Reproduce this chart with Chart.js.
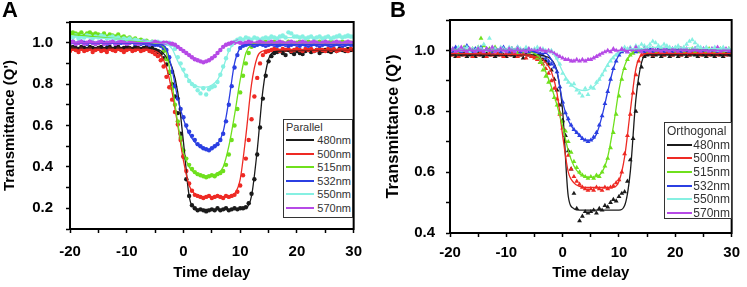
<!DOCTYPE html>
<html>
<head>
<meta charset="utf-8">
<script src="https://cdn.jsdelivr.net/npm/chart.js@4.4.1/dist/chart.umd.min.js"></script>
<style>
  html, body { margin: 0; padding: 0; background: #fff; }
  body { width: 747px; height: 287px; position: relative; overflow: hidden; font-family: "Liberation Sans", Arial, sans-serif; }
  canvas { position: absolute; top: 0; }
  #chartA { left: 0; }
  #chartB { left: 372px; }
  .tag { position: absolute; top: -1px; font: bold 22px "Liberation Sans", Arial, sans-serif; line-height: 22px; color: #000; }
  .legend { position: absolute; box-sizing: border-box; border: 1.5px solid #333; background: #fff; color: #333; }
  .legend .row { display: flex; align-items: center; white-space: nowrap; }
  .legend .swatch { display: block; height: 2px; flex: none; }
  .legend .lbl { flex: 1; text-align: right; }
</style>
</head>
<body>
<canvas id="chartA" width="372" height="287"></canvas>
<canvas id="chartB" width="375" height="287"></canvas>
<div class="tag" style="left:2px">A</div>
<div class="tag" style="left:390px">B</div>
<div class="legend" id="legendA" style="left:283px; top:119px; width:70px; height:99px; font-size:11px;"></div>
<div class="legend" id="legendB" style="left:664px; top:122px; width:68px; height:97px; font-size:12px; padding-top:1px;"></div>
<script>
// time delay grid of the measured points
const delay = [
  -20, -19.5, -19, -18.5, -18, -17.5, -17, -16.5, -16, -15.5,
  -15, -14.5, -14, -13.5, -13, -12.5, -12, -11.5, -11, -10.5,
  -10, -9.5, -9, -8.5, -8, -7.5, -7, -6.5, -6, -5.5,
  -5, -4.5, -4, -3.5, -3, -2.5, -2, -1.5, -1, -0.5,
  0, 0.5, 1, 1.5, 2, 2.5, 3, 3.5, 4, 4.5,
  5, 5.5, 6, 6.5, 7, 7.5, 8, 8.5, 9, 9.5,
  10, 10.5, 11, 11.5, 12, 12.5, 13, 13.5, 14, 14.5,
  15, 15.5, 16, 16.5, 17, 17.5, 18, 18.5, 19, 19.5,
  20, 20.5, 21, 21.5, 22, 22.5, 23, 23.5, 24, 24.5,
  25, 25.5, 26, 26.5, 27, 27.5, 28, 28.5, 29, 29.5,
  30
];
// delay grid of the fitted curves
const fitDelay = [-20, -6, -5, -4, -3, -2, -1, 0, 1, 2, 3, 4, 5, 6, 7, 8, 9, 10, 11, 12, 13, 14, 15, 16, 17, 30];

const wavelengths = ["480nm", "500nm", "515nm", "532nm", "550nm", "570nm"];
const lineColors = ["#1b1b1b", "#ee2a24", "#6fe01c", "#2b3fe2", "#86f0e2", "#b64ae6"];

// panel A (Parallel) measured points
const a480 = [
  0.97, 0.98, 0.975, 0.97, 0.98, 0.975, 0.97, 0.98, 0.975, 0.97,
  0.975, 0.98, 0.97, 0.975, 0.98, 0.97, 0.975, 0.98, 0.97, 0.975,
  0.98, 0.975, 0.97, 0.98, 0.975, 0.97, 0.975, 0.98, 0.97, 0.975,
  0.965, 0.955, 0.945, 0.925, 0.895, 0.855, 0.8, 0.74, 0.66, 0.56,
  0.45, 0.34, 0.26, 0.215, 0.2, 0.19, 0.195, 0.19, 0.185, 0.19,
  0.195, 0.19, 0.2, 0.19, 0.195, 0.2, 0.19, 0.195, 0.2, 0.195,
  0.2, 0.2, 0.205, 0.225, 0.27, 0.34, 0.46, 0.59, 0.73, 0.84,
  0.91, 0.935, 0.95, 0.955, 0.96, 0.95, 0.94, 0.965, 0.955, 0.945,
  0.96, 0.95, 0.945, 0.96, 0.965, 0.955, 0.96, 0.965, 0.95, 0.96,
  0.965, 0.96, 0.955, 0.965, 0.96, 0.97, 0.965, 0.96, 0.97, 0.965,
  0.965
];
const a500 = [
  0.96, 0.97, 0.965, 0.955, 0.97, 0.96, 0.965, 0.97, 0.955, 0.965,
  0.97, 0.96, 0.965, 0.955, 0.97, 0.965, 0.96, 0.97, 0.965, 0.955,
  0.965, 0.97, 0.96, 0.965, 0.97, 0.96, 0.965, 0.97, 0.96, 0.955,
  0.945, 0.935, 0.915, 0.885, 0.835, 0.785, 0.725, 0.665, 0.605, 0.53,
  0.45, 0.38, 0.32, 0.285, 0.265, 0.26, 0.255, 0.25, 0.255, 0.26,
  0.25, 0.255, 0.26, 0.255, 0.25, 0.26, 0.255, 0.26, 0.265, 0.28,
  0.31, 0.36, 0.44, 0.53, 0.63, 0.74, 0.83, 0.9, 0.94, 0.955,
  0.96, 0.965, 0.97, 0.965, 0.96, 0.97, 0.965, 0.97, 0.96, 0.965,
  0.97, 0.965, 0.96, 0.97, 0.965, 0.97, 0.96, 0.965, 0.97, 0.965,
  0.96, 0.97, 0.965, 0.97, 0.96, 0.965, 0.97, 0.965, 0.96, 0.97,
  0.965
];
const a515 = [
  1.04, 1.05, 1.045, 1.04, 1.05, 1.035, 1.045, 1.05, 1.04, 1.045,
  1.04, 1.035, 1.045, 1.03, 1.04, 1.035, 1.03, 1.04, 1.025, 1.03,
  1.02, 1.025, 1.015, 1.02, 1.01, 1.015, 1.005, 1.01, 1.0, 1.005,
  1.0, 0.995, 0.99, 0.96, 0.92, 0.86, 0.78, 0.7, 0.62, 0.54,
  0.48, 0.44, 0.41, 0.39, 0.375, 0.365, 0.36, 0.355, 0.35, 0.355,
  0.36, 0.355, 0.365, 0.37, 0.38, 0.41, 0.46, 0.53, 0.6, 0.68,
  0.76, 0.84, 0.9, 0.95, 0.98, 0.99, 0.995, 1.0, 1.0, 1.005,
  0.995, 1.0, 1.005, 0.995, 1.0, 1.0, 0.995, 1.005, 1.0, 0.995,
  1.0, 1.005, 0.995, 1.0, 1.005, 1.0, 0.995, 1.0, 1.005, 1.0,
  0.995, 1.0, 1.005, 1.0, 0.995, 1.0, 1.005, 1.0, 0.995, 1.0,
  1.0
];
const a532 = [
  1.0, 1.005, 0.995, 1.0, 1.005, 1.0, 0.995, 1.005, 1.0, 0.995,
  1.0, 1.005, 1.0, 0.995, 1.0, 1.005, 0.995, 1.0, 1.0, 1.005,
  0.995, 1.0, 1.005, 0.995, 1.0, 0.995, 1.0, 0.995, 0.99, 0.995,
  0.99, 0.99, 0.985, 0.975, 0.965, 0.93, 0.86, 0.79, 0.73, 0.68,
  0.64, 0.6, 0.57, 0.55, 0.53, 0.51, 0.5, 0.49, 0.485, 0.48,
  0.49, 0.5, 0.51, 0.53, 0.56, 0.62, 0.7, 0.79, 0.88, 0.94,
  0.975, 0.985, 0.99, 0.995, 0.99, 0.985, 0.99, 0.995, 0.99, 0.985,
  0.99, 0.995, 0.99, 0.985, 0.99, 0.995, 0.99, 0.985, 0.99, 0.995,
  0.99, 0.985, 0.995, 0.99, 0.985, 0.99, 0.995, 0.99, 0.985, 0.99,
  0.995, 0.99, 0.985, 0.99, 0.995, 0.99, 0.985, 0.99, 0.995, 0.99,
  0.99
];
const a550 = [
  1.03, 1.025, 1.035, 1.02, 1.03, 1.025, 1.035, 1.03, 1.02, 1.03,
  1.025, 1.035, 1.03, 1.02, 1.025, 1.03, 1.02, 1.025, 1.015, 1.02,
  1.015, 1.02, 1.01, 1.015, 1.01, 1.005, 1.01, 1.005, 1.0, 1.005,
  1.0, 1.005, 1.0, 1.0, 0.995, 1.0, 0.99, 0.97, 0.93, 0.9,
  0.87, 0.84, 0.815, 0.8, 0.79, 0.77, 0.755, 0.78, 0.75, 0.775,
  0.785, 0.79, 0.81, 0.845, 0.885, 0.925, 0.965, 0.99, 1.005, 1.015,
  1.02, 1.015, 1.025, 1.02, 1.015, 1.025, 1.02, 1.015, 1.02, 1.025,
  1.02, 1.03, 1.025, 1.02, 1.03, 1.035, 1.025, 1.05, 1.045, 1.03,
  1.03, 1.025, 1.03, 1.02, 1.025, 1.03, 1.02, 1.025, 1.03, 1.02,
  1.025, 1.03, 1.02, 1.025, 1.03, 1.035, 1.025, 1.03, 1.035, 1.03,
  1.03
];
const a570 = [
  1.0, 1.005, 0.995, 1.0, 1.005, 0.995, 1.0, 1.005, 1.0, 0.995,
  1.0, 1.005, 0.995, 1.0, 1.0, 1.005, 0.995, 1.0, 1.005, 1.0,
  0.995, 1.0, 1.005, 1.0, 0.995, 1.0, 1.005, 1.0, 0.995, 1.0,
  1.005, 1.0, 0.995, 1.0, 1.0, 0.995, 0.995, 0.99, 0.98, 0.97,
  0.96, 0.95, 0.94, 0.93, 0.92, 0.915, 0.91, 0.905, 0.91, 0.915,
  0.925, 0.935, 0.95, 0.965, 0.98, 0.99, 0.995, 1.0, 1.0, 1.005,
  1.0, 0.995, 1.0, 1.005, 1.0, 0.995, 1.0, 1.005, 1.0, 0.995,
  1.0, 1.005, 0.995, 1.0, 1.005, 1.0, 0.995, 1.0, 1.005, 1.0,
  0.995, 1.0, 1.005, 1.0, 0.995, 1.0, 1.005, 1.0, 0.995, 1.0,
  1.005, 1.0, 0.995, 1.0, 1.005, 1.0, 0.995, 1.0, 1.005, 1.0,
  1.0
];

// panel A fitted curves
const aFit480 = [0.975, 0.975, 0.97, 0.96, 0.93, 0.88, 0.76, 0.52, 0.26, 0.2, 0.195, 0.195, 0.195, 0.195, 0.195, 0.195, 0.195, 0.195, 0.2, 0.26, 0.48, 0.77, 0.92, 0.955, 0.96, 0.965];
const aFit500 = [0.965, 0.965, 0.96, 0.94, 0.88, 0.76, 0.6, 0.43, 0.31, 0.27, 0.258, 0.255, 0.255, 0.255, 0.255, 0.255, 0.27, 0.34, 0.55, 0.8, 0.93, 0.96, 0.965, 0.965, 0.965, 0.965];
const aFit515 = [1.04, 1.0, 0.995, 0.99, 0.95, 0.8, 0.61, 0.47, 0.4, 0.37, 0.36, 0.355, 0.36, 0.37, 0.4, 0.5, 0.65, 0.82, 0.95, 0.99, 1.0, 1.0, 1.0, 1.0, 1.0, 1.0];
const aFit532 = [1.0, 0.995, 0.99, 0.99, 0.97, 0.87, 0.73, 0.63, 0.56, 0.52, 0.495, 0.485, 0.49, 0.51, 0.57, 0.72, 0.9, 0.975, 0.99, 0.99, 0.99, 0.99, 0.99, 0.99, 0.99, 0.99];
const aFit550 = [1.03, 1.005, 1.0, 1.0, 0.995, 0.97, 0.91, 0.86, 0.82, 0.795, 0.785, 0.785, 0.795, 0.82, 0.88, 0.96, 1.0, 1.015, 1.02, 1.02, 1.02, 1.02, 1.02, 1.025, 1.025, 1.025];
const aFit570 = [1.0, 1.0, 1.0, 1.0, 1.0, 0.995, 0.98, 0.96, 0.94, 0.92, 0.91, 0.91, 0.925, 0.95, 0.98, 0.995, 1.0, 1.0, 1.0, 1.0, 1.0, 1.0, 1.0, 1.0, 1.0, 1.0];

// panel B (Orthogonal) measured points
const b480 = [
  0.985, 0.99, 0.98, 0.995, 0.985, 0.99, 0.98, 0.985, 0.99, 0.98,
  0.99, 0.985, 0.98, 0.99, 0.985, 0.995, 0.98, 0.985, 0.99, 0.985,
  0.98, 0.99, 0.985, 0.98, 0.99, 0.985, 0.975, 0.99, 0.985, 0.98,
  0.985, 0.98, 0.975, 0.97, 0.965, 0.955, 0.935, 0.905, 0.87, 0.82,
  0.77, 0.72, 0.67, 0.61, 0.53, 0.48, 0.44, 0.455, 0.47, 0.465,
  0.47, 0.475, 0.465, 0.48, 0.475, 0.49, 0.485, 0.5, 0.51, 0.505,
  0.52, 0.53, 0.535, 0.57, 0.64, 0.71, 0.8, 0.89, 0.945, 0.98,
  0.985, 0.99, 0.98, 0.985, 0.99, 0.98, 0.985, 0.99, 0.98, 0.985,
  0.99, 0.98, 0.985, 0.99, 0.98, 0.985, 0.99, 0.985, 0.98, 0.99,
  0.985, 0.98, 0.99, 0.985, 0.98, 0.99, 0.985, 0.98, 0.99, 0.985,
  0.985
];
const b500 = [
  0.99, 0.985, 0.995, 0.98, 0.99, 0.985, 0.995, 0.99, 0.98, 0.99,
  0.985, 0.995, 0.99, 0.98, 0.99, 0.985, 0.995, 0.99, 0.985, 0.98,
  0.99, 0.985, 0.995, 0.99, 0.98, 0.985, 0.99, 0.975, 0.985, 0.98,
  0.975, 0.97, 0.96, 0.955, 0.94, 0.925, 0.9, 0.875, 0.84, 0.79,
  0.745, 0.7, 0.655, 0.61, 0.585, 0.57, 0.56, 0.55, 0.545, 0.54,
  0.545, 0.54, 0.55, 0.545, 0.54, 0.55, 0.545, 0.55, 0.555, 0.565,
  0.575, 0.6, 0.66, 0.72, 0.79, 0.86, 0.92, 0.965, 0.985, 0.99,
  0.99, 0.995, 0.985, 0.99, 0.995, 0.99, 0.985, 0.995, 0.99, 0.985,
  0.99, 0.995, 0.985, 0.99, 0.995, 0.985, 0.99, 0.995, 0.99, 0.985,
  0.995, 0.99, 0.985, 0.995, 0.99, 0.985, 1.0, 0.99, 0.985, 0.995,
  0.99
];
const b515 = [
  1.0, 0.995, 1.005, 0.99, 1.0, 1.01, 0.995, 1.0, 1.005, 0.995,
  1.01, 1.04, 1.015, 1.0, 1.005, 0.995, 1.01, 1.0, 0.995, 1.005,
  1.0, 0.995, 1.005, 1.0, 0.99, 1.0, 0.995, 1.005, 0.99, 0.995,
  0.985, 0.975, 0.96, 0.935, 0.915, 0.895, 0.87, 0.845, 0.82, 0.795,
  0.765, 0.735, 0.7, 0.665, 0.635, 0.615, 0.6, 0.59, 0.585, 0.58,
  0.585, 0.58, 0.59, 0.585, 0.6, 0.62, 0.645, 0.68, 0.73, 0.79,
  0.85, 0.905, 0.94, 0.97, 0.985, 0.99, 1.0, 0.995, 1.0, 1.005,
  0.995, 1.0, 1.005, 0.995, 1.0, 1.005, 0.995, 1.0, 1.005, 1.0,
  0.995, 1.0, 1.005, 0.995, 1.0, 1.0, 1.005, 0.995, 1.0, 1.005,
  1.0, 0.995, 1.005, 1.0, 0.995, 1.0, 1.005, 0.995, 1.0, 1.005,
  1.0
];
const b532 = [
  1.005, 0.995, 1.01, 1.0, 0.995, 1.005, 1.015, 1.0, 0.995, 1.005,
  1.0, 1.01, 0.995, 1.005, 1.0, 0.99, 1.005, 1.0, 0.995, 1.01,
  1.0, 0.995, 1.005, 1.0, 1.01, 0.995, 1.0, 1.005, 0.995, 1.0,
  0.995, 1.0, 0.99, 0.985, 0.975, 0.965, 0.955, 0.945, 0.93, 0.88,
  0.83, 0.795, 0.775, 0.755, 0.74, 0.73, 0.72, 0.71, 0.705, 0.7,
  0.705, 0.715, 0.73, 0.755, 0.785, 0.825, 0.865, 0.905, 0.94, 0.965,
  0.985, 0.995, 1.0, 0.995, 1.005, 1.0, 0.995, 1.005, 1.0, 0.995,
  1.0, 1.005, 0.995, 1.0, 1.005, 1.0, 0.995, 1.005, 1.0, 0.995,
  1.005, 1.0, 0.995, 1.005, 1.0, 0.995, 1.0, 1.005, 1.0, 0.995,
  1.0, 1.005, 0.995, 1.0, 1.005, 0.995, 1.0, 1.005, 1.0, 0.995,
  1.0
];
const b550 = [
  1.0, 1.005, 0.995, 1.01, 1.0, 1.005, 1.01, 0.995, 1.005, 1.0,
  1.01, 1.005, 1.02, 1.0, 1.04, 1.01, 1.005, 1.0, 1.01, 1.005,
  1.0, 1.01, 1.005, 1.0, 1.01, 1.005, 1.0, 1.01, 1.005, 1.0,
  1.005, 1.01, 1.0, 1.005, 1.0, 0.995, 1.0, 0.99, 0.975, 0.955,
  0.925, 0.905, 0.895, 0.885, 0.89, 0.87, 0.86, 0.85, 0.875, 0.855,
  0.88, 0.875, 0.895, 0.905, 0.92, 0.935, 0.95, 0.965, 0.975, 0.985,
  0.99, 1.0, 1.01, 1.005, 1.01, 1.0, 1.015, 1.01, 1.02, 1.015,
  1.01, 1.02, 1.03, 1.025, 1.015, 1.01, 1.02, 1.015, 1.01, 1.005,
  1.01, 1.015, 1.005, 1.01, 1.02, 1.03, 1.035, 1.025, 1.015, 1.01,
  1.005, 1.01, 1.0, 1.005, 1.01, 1.0, 1.005, 1.01, 1.0, 1.005,
  1.0
];
const b570 = [
  1.0, 1.005, 0.995, 1.0, 1.01, 1.0, 0.995, 1.005, 1.0, 0.995,
  1.005, 1.0, 0.995, 1.005, 1.0, 1.01, 0.995, 1.0, 1.005, 1.0,
  0.995, 1.005, 1.0, 0.995, 1.005, 1.0, 1.0, 0.995, 1.005, 1.0,
  1.0, 0.995, 1.005, 1.0, 0.995, 1.0, 0.995, 0.99, 0.985, 0.98,
  0.975, 0.97, 0.97, 0.965, 0.965, 0.97, 0.965, 0.97, 0.965, 0.97,
  0.97, 0.975, 0.98, 0.985, 0.99, 0.995, 1.0, 0.995, 1.005, 1.0,
  0.995, 1.005, 1.0, 0.995, 1.005, 1.0, 1.01, 1.0, 0.995, 1.005,
  1.0, 0.995, 1.005, 1.0, 1.0, 0.995, 1.005, 1.0, 0.995, 1.005,
  1.0, 0.995, 1.005, 1.0, 1.005, 0.995, 1.0, 1.005, 1.0, 0.995,
  1.005, 1.0, 0.995, 1.005, 1.0, 1.01, 0.995, 1.0, 1.005, 1.0,
  1.0
];

// panel B fitted curves
const bFit480 = [0.985, 0.985, 0.985, 0.985, 0.98, 0.97, 0.93, 0.8, 0.52, 0.48, 0.475, 0.475, 0.475, 0.475, 0.475, 0.475, 0.475, 0.475, 0.49, 0.6, 0.84, 0.96, 0.985, 0.985, 0.985, 0.985];
const bFit500 = [0.99, 0.985, 0.98, 0.975, 0.96, 0.93, 0.86, 0.72, 0.6, 0.565, 0.553, 0.55, 0.55, 0.55, 0.55, 0.55, 0.55, 0.57, 0.65, 0.8, 0.94, 0.985, 0.99, 0.99, 0.99, 0.99];
const bFit515 = [1.0, 1.0, 0.99, 0.975, 0.93, 0.88, 0.82, 0.75, 0.67, 0.62, 0.595, 0.585, 0.583, 0.585, 0.6, 0.65, 0.75, 0.87, 0.95, 0.985, 1.0, 1.0, 1.0, 1.0, 1.0, 1.0];
const bFit532 = [1.0, 1.0, 0.995, 0.99, 0.99, 0.97, 0.93, 0.83, 0.77, 0.74, 0.72, 0.705, 0.705, 0.725, 0.785, 0.865, 0.94, 0.985, 1.0, 1.0, 1.0, 1.0, 1.0, 1.0, 1.0, 1.0];
const bFit550 = [1.0, 1.0, 1.0, 1.0, 1.0, 0.995, 0.97, 0.93, 0.9, 0.88, 0.87, 0.868, 0.875, 0.89, 0.92, 0.955, 0.98, 0.995, 1.0, 1.005, 1.005, 1.005, 1.01, 1.01, 1.01, 1.005];
const bFit570 = [1.0, 1.0, 1.0, 1.0, 1.0, 0.995, 0.985, 0.975, 0.97, 0.967, 0.966, 0.967, 0.972, 0.982, 0.992, 0.998, 1.0, 1.0, 1.0, 1.0, 1.0, 1.0, 1.0, 1.0, 1.0, 1.0];

const black = "#000";
const boldFont = (size) => ({ family: "'Liberation Sans', Arial, sans-serif", size, weight: "bold" });

// box round the plot area
const framePlugin = {
  id: "frame",
  afterDraw(chart) {
    const { ctx, chartArea: a } = chart;
    ctx.save();
    ctx.strokeStyle = black;
    ctx.lineWidth = 2;
    ctx.strokeRect(a.left, a.top, a.right - a.left, a.bottom - a.top);
    ctx.restore();
  }
};

const buildDatasets = (pointSets, fitSets, pointStyle, radius) => {
  const sets = [];
  pointSets.forEach((vals, i) => {
    sets.push({
      label: wavelengths[i] + " data",
      data: delay.map((t, k) => ({ x: t, y: vals[k] })),
      showLine: false,
      pointStyle,
      pointRadius: radius,
      pointBackgroundColor: lineColors[i],
      pointBorderWidth: 0,
      order: 20 - i
    });
  });
  fitSets.forEach((vals, i) => {
    sets.push({
      label: wavelengths[i],
      data: fitDelay.map((t, k) => ({ x: t, y: vals[k] })),
      showLine: true,
      fill: false,
      pointRadius: 0,
      borderColor: lineColors[i],
      borderWidth: 1.3,
      cubicInterpolationMode: "monotone",
      order: 10 - i
    });
  });
  return sets;
};

const buildOptions = (p) => ({
  responsive: false,
  animation: false,
  layout: { padding: { left: 0, right: p.padRight, top: 13, bottom: 0 } },
  plugins: { legend: { display: false }, tooltip: { enabled: false } },
  scales: {
    x: {
      type: "linear",
      min: -20,
      max: 30,
      ticks: {
        stepSize: 5,
        autoSkip: false,
        maxRotation: 0,
        padding: p.xPad,
        color: black,
        font: boldFont(15),
        callback: (v) => (v % 10 === 0 ? String(v) : "")
      },
      grid: { drawOnChartArea: false, tickLength: 4, tickColor: black, tickWidth: 1.5 },
      border: { color: black, width: 2 },
      title: { display: true, text: "Time delay", color: black, font: boldFont(15), padding: { top: 0, bottom: 5 } },
      afterFit: (s) => { s.height = p.xHeight; }
    },
    y: {
      type: "linear",
      min: p.yMin,
      max: 1.1,
      ticks: {
        stepSize: 0.1,
        autoSkip: false,
        padding: p.yPad,
        color: black,
        font: boldFont(15),
        callback: (v) => {
          const k = Math.round(v * 10);
          return k % 2 === 0 && k <= 10 ? (k / 10).toFixed(1) : "";
        }
      },
      grid: { drawOnChartArea: false, tickLength: 4, tickColor: black, tickWidth: 1.5 },
      border: { color: black, width: 2 },
      title: { display: true, text: "Transmittance (Q')", color: black, font: boldFont(p.yTitleSize), padding: { top: p.yTitlePad, bottom: 0 } },
      afterFit: (s) => { s.width = p.yWidth; }
    }
  }
});

new Chart(document.getElementById("chartA"), {
  type: "scatter",
  data: { datasets: buildDatasets([a480, a500, a515, a532, a550, a570], [aFit480, aFit500, aFit515, aFit532, aFit550, aFit570], "circle", 2.2) },
  options: buildOptions({ padRight: 10, xHeight: 58, yWidth: 70, yMin: 0.1, xPad: 10, yPad: 13, yTitleSize: 15, yTitlePad: 1 }),
  plugins: [framePlugin]
});

new Chart(document.getElementById("chartB"), {
  type: "scatter",
  data: { datasets: buildDatasets([b480, b500, b515, b532, b550, b570], [bFit480, bFit500, bFit515, bFit532, bFit550, bFit570], "triangle", 2.8) },
  options: buildOptions({ padRight: 7, xHeight: 54, yWidth: 78, yMin: 0.4, xPad: 7, yPad: 11, yTitleSize: 16.5, yTitlePad: 12 }),
  plugins: [framePlugin]
});

// legends built from the same series names and colours
const buildLegend = (id, title, rowHeight, swatchWidth) => {
  const box = document.getElementById(id);
  const head = document.createElement("div");
  head.className = "row";
  head.style.height = rowHeight + "px";
  head.style.paddingLeft = "2px";
  head.textContent = title;
  box.appendChild(head);
  wavelengths.forEach((name, i) => {
    const row = document.createElement("div");
    row.className = "row";
    row.style.height = rowHeight + "px";
    const sw = document.createElement("span");
    sw.className = "swatch";
    sw.style.width = swatchWidth + "px";
    sw.style.marginLeft = "2px";
    sw.style.background = lineColors[i];
    const lbl = document.createElement("span");
    lbl.className = "lbl";
    lbl.style.paddingRight = "1px";
    lbl.textContent = name;
    row.appendChild(sw);
    row.appendChild(lbl);
    box.appendChild(row);
  });
};
buildLegend("legendA", "Parallel", 13.5, 28);
buildLegend("legendB", "Orthogonal", 13.7, 25);
</script>
</body>
</html>
